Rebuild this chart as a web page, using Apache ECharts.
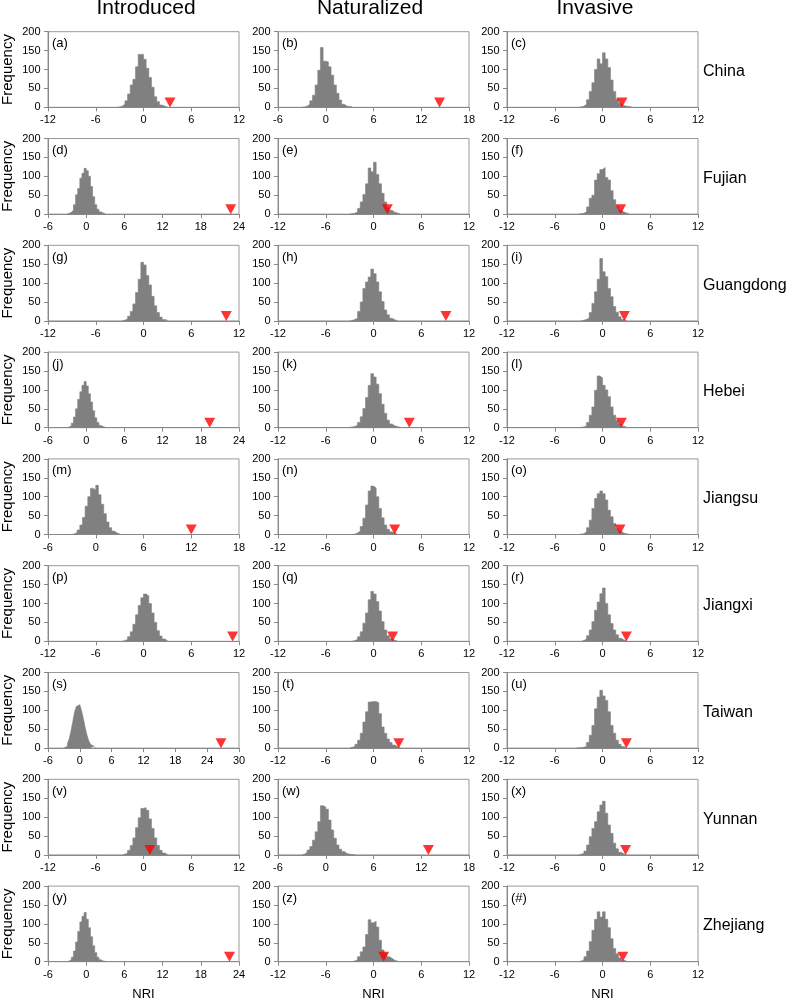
<!DOCTYPE html>
<html><head><meta charset="utf-8">
<script src="https://cdn.jsdelivr.net/npm/echarts@6/dist/echarts.min.js"></script>
<style>html,body{margin:0;padding:0;background:#fff}#c{width:787px;height:1004px}</style>
</head><body><div id="c"></div>
<script>
const columnTitles = ['Introduced', 'Naturalized', 'Invasive'];
const regionNames = ['China', 'Fujian', 'Guangdong', 'Hebei', 'Jiangsu', 'Jiangxi', 'Taiwan', 'Yunnan', 'Zhejiang'];
const panelLabels = ['(a)','(b)','(c)','(d)','(e)','(f)','(g)','(h)','(i)','(j)','(k)','(l)','(m)','(n)','(o)','(p)','(q)','(r)','(s)','(t)','(u)','(v)','(w)','(x)','(y)','(z)','(#)'];
const axisMin = [-12,-6,-12, -6,-12,-12, -12,-12,-12, -6,-12,-12, -6,-12,-12, -12,-12,-12, -6,-12,-12, -12,-6,-12, -6,-12,-12];
const axisMax = [12,18,12, 24,12,12, 12,12,12, 24,12,12, 18,12,12, 12,12,12, 30,12,12, 12,18,12, 24,12,12];
const yTicks = [0, 50, 100, 150, 200];
const observedNRI = [3.33,14.3,2.45, 22.7,1.74,2.28, 10.4,9.1,2.75, 19.4,4.5,2.37, 12.0,2.66,2.2, 11.2,2.4,3.0, 26.6,3.17,3.0, 0.8,12.9,2.9, 22.5,1.28,2.55];
const binWidth = 1/3;
// index (in bins) of the first bin of each histogram
const firstBin = [-10,-9,-9, -9,-9,-9, -8,-9,-8, -9,-10,-9, -9,-8,-9, -8,-8,-8, -9,-9,-10, -8,-9,-9, -9,-8,-9];

const hist_a = [1,3,8,17,35,59,74,107,140,140,127,103,79,53,28,15,6,3,1];
const hist_b = [1,3,8,17,32,59,98,158,122,120,107,85,59,37,19,8,3,2,1];
const hist_c = [1,3,8,20,42,65,100,128,115,144,128,105,72,42,22,10,5,3,2,1];
const hist_d = [2,5,10,25,51,68,95,108,121,115,100,73,46,25,13,6,3,1];
const hist_e = [1,2,6,15,32,52,80,122,112,137,105,80,55,32,17,10,5,3,1];
const hist_f = [1,2,6,19,42,50,90,107,118,123,97,90,62,38,20,11,6,3,1];
const hist_g = [2,5,12,25,45,75,110,155,148,120,95,65,40,22,10,4,2];
const hist_h = [1,4,7,25,50,86,103,116,137,125,103,77,51,29,16,7,3,1];
const hist_i = [2,4,8,22,46,77,110,165,130,117,86,64,38,23,11,4,2];
const hist_j = [2,5,12,28,50,75,95,112,122,110,90,68,45,26,14,6,3,1];
const hist_k = [1,2,3,7,14,29,51,80,112,143,134,115,90,62,38,20,10,5,3,1];
const hist_l = [1,2,5,14,33,55,99,137,132,112,100,82,55,33,20,10,4,2];
const hist_m = [2,5,12,25,45,75,100,122,118,130,105,80,55,33,18,9,4,2];
const hist_n = [1,4,9,21,43,78,115,128,123,100,69,44,25,14,7,4,1];
const hist_o = [1,2,7,18,38,69,95,108,115,108,91,64,47,29,16,9,4,2,1];
const hist_p = [2,5,12,25,45,70,95,115,125,120,100,75,50,28,14,6,2];
const hist_q = [2,5,12,25,48,75,110,132,125,105,80,52,30,15,7,3,1];
const hist_r = [2,6,15,30,52,82,104,126,141,100,70,47,30,17,8,4,2];
const hist_s = [2,5,12,25,45,70,95,110,115,112,98,78,55,35,20,10,5,2];
const hist_t = [2,4,10,21,39,69,96,122,123,123,120,91,56,39,24,15,8,4,2];
const hist_u = [1,1,2,5,15,34,60,104,135,153,138,126,96,60,39,21,10,4,2];
const hist_v = [2,5,12,25,45,72,98,123,125,118,95,70,45,25,12,5,2];
const hist_w = [2,7,13,22,39,61,88,130,127,121,92,66,44,26,15,9,4,2,1,1];
const hist_x = [2,4,10,26,48,70,88,114,132,142,110,79,57,31,16,7,3,1];
const hist_y = [2,5,12,28,52,80,105,120,130,112,90,66,42,24,12,5,2,1];
const hist_z = [2,5,13,26,39,72,111,103,107,92,57,31,22,13,9,4,2];
const hist_hash = [2,4,13,28,53,83,112,132,118,132,112,90,61,35,21,10,4,2];
const histograms = [hist_a,hist_b,hist_c,hist_d,hist_e,hist_f,hist_g,hist_h,hist_i,hist_j,hist_k,hist_l,hist_m,hist_n,hist_o,hist_p,hist_q,hist_r,hist_s,hist_t,hist_u,hist_v,hist_w,hist_x,hist_y,hist_z,hist_hash];

const FONT = '"Liberation Sans", Arial, sans-serif';
const colLeft = [48, 278, 507];
const plotW = 191, plotH = 75.6, top0 = 31.7, rowStep = 106.8;
const markerY = 13;

const grids = [], xAxes = [], yAxes = [], series = [], graphics = [];
for (let i = 0; i < 27; i++) {
  const row = Math.floor(i / 3), col = i % 3;
  const top = top0 + row * rowStep;
  grids.push({left: colLeft[col], top: top, width: plotW, height: plotH, show: true, borderColor: '#999', borderWidth: 1, backgroundColor: 'transparent'});
  xAxes.push({gridIndex: i, type: 'value', min: axisMin[i], max: axisMax[i], interval: 6,
    axisLine: {show: true, onZero: false, lineStyle: {color: '#888', width: 1}},
    axisTick: {show: true, length: 4, lineStyle: {color: '#888'}},
    axisLabel: {fontSize: 11, color: '#000', margin: 7.5, fontFamily: FONT},
    splitLine: {show: false}});
  yAxes.push({gridIndex: i, type: 'value', min: yTicks[0], max: yTicks[yTicks.length-1], interval: 50,
    axisLine: {show: true, onZero: false, lineStyle: {color: '#888', width: 1}},
    axisTick: {show: true, length: 4, lineStyle: {color: '#888'}},
    axisLabel: {fontSize: 11, color: '#000', margin: 7.5, fontFamily: FONT},
    splitLine: {show: false}});
  // histogram as a stepped area: each bin from its left edge, counts from the data arrays
  const h = histograms[i];
  const pts = [[firstBin[i] * binWidth, 0]];
  h.forEach((c, j) => pts.push([(firstBin[i] + j) * binWidth, c]));
  pts.push([(firstBin[i] + h.length) * binWidth, 0]);
  series.push({type: 'line', xAxisIndex: i, yAxisIndex: i, silent: true, step: 'end',
    data: pts, showSymbol: false, symbol: 'none', clip: true,
    lineStyle: {width: 0.6, color: '#808080'},
    areaStyle: {color: '#808080', opacity: 1}});
  series.push({type: 'scatter', xAxisIndex: i, yAxisIndex: i, silent: true, z: 5,
    data: [[observedNRI[i], markerY]], symbol: 'triangle', symbolRotate: 180, symbolSize: [11, 10],
    itemStyle: {color: '#ff0000'}});
  graphics.push({type: 'text', x: colLeft[col] + 4, y: top + 12, silent: true,
    style: {text: panelLabels[i], fontSize: 13, fontFamily: FONT, fill: '#000', align: 'left', verticalAlign: 'middle'}});
}
const titleX = [146, 370, 595];
for (let c = 0; c < 3; c++) {
  graphics.push({type: 'text', x: titleX[c], y: 8.7, silent: true,
    style: {text: columnTitles[c], fontSize: 21, fontFamily: FONT, fill: '#000', align: 'center', verticalAlign: 'middle'}});
  graphics.push({type: 'text', x: colLeft[c] + plotW / 2, y: 994, silent: true,
    style: {text: 'NRI', fontSize: 13, fontFamily: FONT, fill: '#000', align: 'center', verticalAlign: 'middle'}});
}
for (let r = 0; r < 9; r++) {
  const cy = top0 + r * rowStep + plotH / 2;
  graphics.push({type: 'text', x: 703, y: cy + 2, silent: true,
    style: {text: regionNames[r], fontSize: 16, fontFamily: FONT, fill: '#000', align: 'left', verticalAlign: 'middle'}});
  graphics.push({type: 'text', x: 7.5, y: cy, rotation: Math.PI / 2, silent: true,
    style: {text: 'Frequency', fontSize: 15, fontFamily: FONT, fill: '#000', align: 'center', verticalAlign: 'middle'}});
}

const chart = echarts.init(document.getElementById('c'), null, {renderer: 'canvas'});
chart.setOption({animation: false, backgroundColor: '#fff', grid: grids, xAxis: xAxes, yAxis: yAxes, series: series, graphic: graphics});
</script></body></html>
